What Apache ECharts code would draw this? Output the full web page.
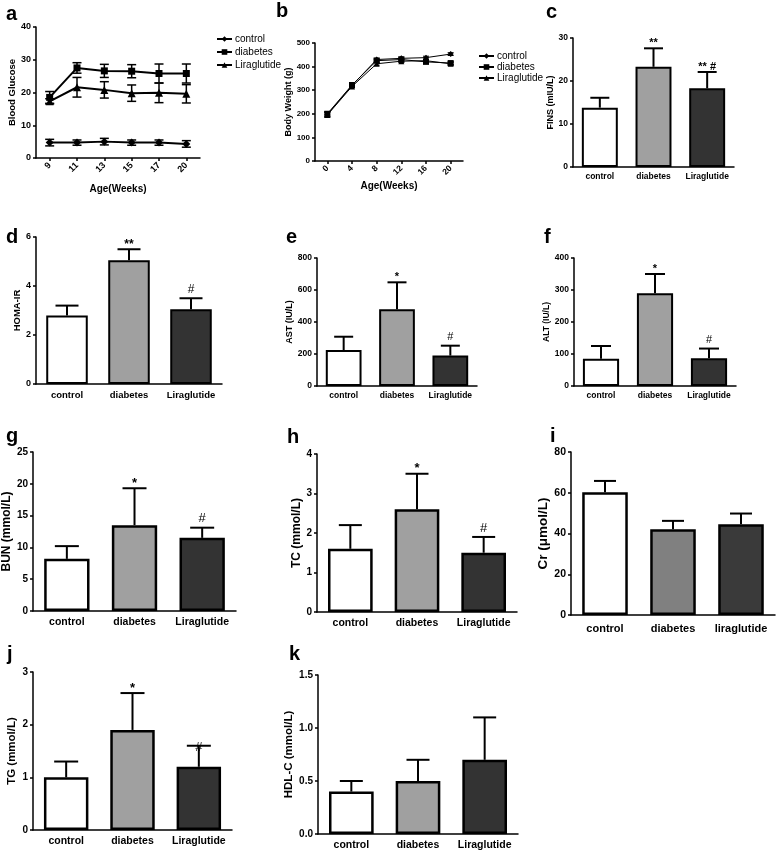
<!DOCTYPE html>
<html>
<head>
<meta charset="utf-8">
<script src="https://cdn.jsdelivr.net/npm/echarts@6/dist/echarts.min.js"></script>
<style>
html,body{margin:0;padding:0;background:#fff;}
#chart{width:784px;height:858px;}
</style>
</head>
<body>
<div id="chart"></div>
<script>
// ---------------- data ----------------
const groups = ['control', 'diabetes', 'Liraglutide'];
const groupsCr = ['control', 'diabetes', 'liraglutide'];
const seriesNames = ['control', 'diabetes', 'Liraglutide'];

// a: blood glucose
const weeksGlucose = ['9', '11', '13', '15', '17', '20'];
const glucoseControl = [4.7, 4.7, 5.0, 4.7, 4.7, 4.3];
const glucoseControlSd = [1.0, 0.8, 1.0, 0.8, 0.8, 1.0];
const glucoseDiabetes = [18.5, 27.5, 26.6, 26.5, 25.8, 25.8];
const glucoseDiabetesSd = [1.8, 1.6, 2.0, 2.0, 2.9, 2.9];
const glucoseLira = [17.3, 21.6, 20.8, 19.8, 19.9, 19.6];
const glucoseLiraSd = [0.8, 3.0, 2.5, 2.5, 3.0, 2.8];

// b: body weight
const weeksWeight = ['0', '4', '8', '12', '16', '20'];
const weightControl = [197, 320, 430, 435, 438, 453];
const weightControlSd = [10, 6, 6, 6, 6, 6];
const weightDiabetes = [200, 322, 425, 430, 420, 415];
const weightDiabetesSd = [10, 6, 6, 6, 6, 6];
const weightLira = [195, 316, 412, 423, 425, 412];
const weightLiraSd = [10, 6, 6, 6, 6, 6];

// c - k: bar panels (mean, SD, significance marks)
const finsMean = [13.8, 23.3, 18.3];
const finsSd = [2.3, 4.3, 3.8];
const finsMarks = ['', '**', '** #'];

const homaMean = [2.8, 5.05, 3.05];
const homaSd = [0.4, 0.45, 0.45];
const homaMarks = ['', '**', '#'];

const astMean = [225, 480, 190];
const astSd = [83, 168, 62];
const astMarks = ['', '*', '#'];

const altMean = [85, 290, 87];
const altSd = [40, 60, 30];
const altMarks = ['', '*', '#'];

const bunMean = [8.2, 13.5, 11.5];
const bunSd = [2.0, 5.8, 1.6];
const bunMarks = ['', '*', '#'];

const tcMean = [1.6, 2.6, 1.5];
const tcSd = [0.6, 0.9, 0.4];
const tcMarks = ['', '*', '#'];

const crMean = [60.3, 42.1, 44.5];
const crSd = [5.5, 4.1, 5.3];
const crMarks = ['', '', ''];

const tgMean = [1.0, 1.9, 1.2];
const tgSd = [0.3, 0.7, 0.4];
const tgMarks = ['', '*', '#'];

const hdlMean = [0.4, 0.5, 0.7];
const hdlSd = [0.1, 0.2, 0.4];
const hdlMarks = ['', '', ''];

// ---------------- styles / layout ----------------
const FONT = '"Liberation Sans", Arial, sans-serif';
const BAR_COLORS = ['#ffffff', '#a0a0a0', '#333333'];
const BAR_COLORS_CR = ['#ffffff', '#808080', '#3a3a3a'];

const option = {
  backgroundColor: '#fff',
  animation: false,
  grid: [], xAxis: [], yAxis: [], series: [], legend: [], graphic: []
};

function yAxisCfg(gi, cfg) {
  return {
    gridIndex: gi, type: 'value', min: 0, max: cfg.max, interval: cfg.interval,
    name: cfg.yName, nameLocation: 'middle', nameGap: cfg.nameGap,
    nameTextStyle: { fontFamily: FONT, fontWeight: 'bold', fontSize: cfg.nameSize, color: '#000' },
    axisLine: { show: true, lineStyle: { color: '#000', width: 1.5 } },
    axisTick: { show: true, length: 3, lineStyle: { color: '#000', width: 1.5 } },
    splitLine: { show: false },
    axisLabel: {
      color: '#000', fontFamily: FONT, fontWeight: 'bold', fontSize: cfg.tickSize, margin: 5,
      formatter: cfg.decimals ? (v => v.toFixed(cfg.decimals)) : null
    }
  };
}

function xAxisCfg(gi, cats, cfg) {
  return {
    gridIndex: gi, type: 'category', data: cats, boundaryGap: true,
    name: cfg.xName || '', nameLocation: 'middle', nameGap: cfg.xNameGap || 0,
    nameTextStyle: { fontFamily: FONT, fontWeight: 'bold', fontSize: 10, color: '#000' },
    axisLine: { show: true, lineStyle: { color: '#000', width: 1.5 } },
    axisTick: { show: !!cfg.xTicks, alignWithLabel: true, length: 3, lineStyle: { color: '#000', width: 1.5 } },
    axisLabel: {
      interval: 0, color: '#000', fontFamily: FONT, fontWeight: 'bold',
      fontSize: cfg.catSize, margin: cfg.catMargin, rotate: cfg.rotate || 0
    }
  };
}

function errorSeries(gi, means, sds, marks, cfg, twoSided, name) {
  return {
    type: 'custom', name: name, xAxisIndex: gi, yAxisIndex: gi, silent: true, z: 5,
    data: means.map((m, i) => [i, m, m + sds[i], m - sds[i]]),
    renderItem: function (params, api) {
      const i = api.value(0);
      const mid = api.coord([i, api.value(1)]);
      const top = api.coord([i, api.value(2)]);
      const bot = api.coord([i, api.value(3)]);
      const hw = cfg.capW / 2;
      const ls = { stroke: '#000', lineWidth: cfg.errLw || 2 };
      const ch = [];
      const y0 = twoSided ? bot[1] : mid[1];
      ch.push({ type: 'line', shape: { x1: top[0], y1: y0, x2: top[0], y2: top[1] }, style: ls });
      ch.push({ type: 'line', shape: { x1: top[0] - hw, y1: top[1], x2: top[0] + hw, y2: top[1] }, style: ls });
      if (twoSided) {
        ch.push({ type: 'line', shape: { x1: bot[0] - hw, y1: bot[1], x2: bot[0] + hw, y2: bot[1] }, style: ls });
      }
      const mk = marks ? marks[params.dataIndex] : '';
      if (mk) {
        const isHash = mk === '#';
        const off = (cfg.markOff && cfg.markOff[params.dataIndex] != null) ? cfg.markOff[params.dataIndex] : (isHash ? 9 : 5);
        ch.push({
          type: 'text',
          style: {
            text: mk, x: top[0], y: top[1] - off,
            textAlign: 'center', textVerticalAlign: 'middle',
            font: (isHash ? 'normal ' : 'bold ') + (cfg.markSize || 12) + 'px ' + FONT,
            fill: '#000'
          }
        });
      }
      return { type: 'group', children: ch };
    }
  };
}

function barPanel(cats, means, sds, marks, cfg) {
  const gi = option.grid.length;
  option.grid.push(cfg.grid);
  option.xAxis.push(xAxisCfg(gi, cats, cfg));
  option.yAxis.push(yAxisCfg(gi, cfg));
  const colors = cfg.colors || BAR_COLORS;
  option.series.push({
    type: 'bar', name: cfg.yName, xAxisIndex: gi, yAxisIndex: gi, silent: true,
    barCategoryGap: cfg.gap || '33%',
    itemStyle: { borderColor: '#000', borderWidth: cfg.borderW || 2 },
    data: means.map((v, i) => ({ value: v, itemStyle: { color: colors[i] } }))
  });
  option.series.push(errorSeries(gi, means, sds, marks, cfg, false, cfg.yName + ' err'));
}

function linePanel(cats, lines, sds, cfg) {
  const gi = option.grid.length;
  option.grid.push(cfg.grid);
  option.xAxis.push(xAxisCfg(gi, cats, cfg));
  option.yAxis.push(yAxisCfg(gi, cfg));
  const symbols = ['diamond', 'rect', 'triangle'];
  lines.forEach((vals, k) => {
    option.series.push({
      type: 'line', name: seriesNames[k], xAxisIndex: gi, yAxisIndex: gi, silent: true,
      data: vals, symbol: symbols[k], symbolSize: cfg.symSize[k],
      lineStyle: { color: '#000', width: cfg.lineW },
      itemStyle: { color: '#000' }, z: 3
    });
    option.series.push(errorSeries(gi, vals, sds[k], null, cfg, true, seriesNames[k] + ' err'));
  });
  option.legend.push({
    data: seriesNames, orient: 'vertical', left: cfg.legLeft, top: cfg.legTop,
    itemWidth: 15, itemHeight: 7, itemGap: cfg.legGap, selectedMode: false,
    textStyle: { fontFamily: FONT, fontSize: 10, color: '#000', padding: [0, 0, 0, -2] }
  });
}

// a
linePanel(weeksGlucose, [glucoseControl, glucoseDiabetes, glucoseLira],
  [glucoseControlSd, glucoseDiabetesSd, glucoseLiraSd], {
  grid: { left: 36, top: 27, width: 164, height: 131 },
  max: 40, interval: 10, yName: 'Blood Glucose', nameGap: 16, nameSize: 9.5, tickSize: 9,
  xName: 'Age(Weeks)', xNameGap: 26, catSize: 9, catMargin: 6, rotate: 45, xTicks: true,
  capW: 9, errLw: 1.5, lineW: 2, symSize: [8, 7, 8],
  legLeft: 211, legTop: 29, legGap: 3
});

// b
linePanel(weeksWeight, [weightControl, weightDiabetes, weightLira],
  [weightControlSd, weightDiabetesSd, weightLiraSd], {
  grid: { left: 315, top: 43, width: 148, height: 118 },
  max: 500, interval: 100, yName: 'Body Weight (g)', nameGap: 17, nameSize: 9, tickSize: 8,
  xName: 'Age(Weeks)', xNameGap: 20, catSize: 8.5, catMargin: 6, rotate: 45, xTicks: true,
  capW: 6, errLw: 1, lineW: 1, symSize: [6, 6, 6],
  legLeft: 473, legTop: 46, legGap: 1
});

// c
barPanel(groups, finsMean, finsSd, finsMarks, {
  grid: { left: 573, top: 38, width: 161, height: 129 },
  max: 30, interval: 10, yName: 'FINS (mIU/L)', nameGap: 15, nameSize: 9, tickSize: 8.5,
  catSize: 8.5, catMargin: 5, capW: 19, markSize: 11
});

// d
barPanel(groups, homaMean, homaSd, homaMarks, {
  grid: { left: 36, top: 237, width: 186, height: 147 },
  max: 6, interval: 2, yName: 'HOMA-IR', nameGap: 14, nameSize: 9.5, tickSize: 9,
  catSize: 9.5, catMargin: 6, capW: 23, markSize: 12
});

// e
barPanel(groups, astMean, astSd, astMarks, {
  grid: { left: 317, top: 258, width: 160, height: 128 },
  max: 800, interval: 200, yName: 'AST (IU/L)', nameGap: 20, nameSize: 9, tickSize: 8.5,
  catSize: 8.5, catMargin: 5, capW: 19, markSize: 11
});

// f
barPanel(groups, altMean, altSd, altMarks, {
  grid: { left: 574, top: 258, width: 162, height: 128 },
  max: 400, interval: 100, yName: 'ALT (IU/L)', nameGap: 19, nameSize: 8.5, tickSize: 8.5,
  catSize: 8.5, catMargin: 5, capW: 20, markSize: 11
});

// g
barPanel(groups, bunMean, bunSd, bunMarks, {
  grid: { left: 33, top: 452, width: 203, height: 159 },
  max: 25, interval: 5, yName: 'BUN (mmol/L)', nameGap: 16, nameSize: 12, tickSize: 10,
  catSize: 10.5, catMargin: 6, capW: 24, markSize: 13, borderW: 2.5
});

// h
barPanel(groups, tcMean, tcSd, tcMarks, {
  grid: { left: 317, top: 454, width: 200, height: 158 },
  max: 4, interval: 1, yName: 'TC (mmol/L)', nameGap: 14, nameSize: 12, tickSize: 10,
  catSize: 10.5, catMargin: 6, capW: 23, markSize: 13, borderW: 2.5
});

// i
barPanel(groupsCr, crMean, crSd, crMarks, {
  grid: { left: 571, top: 452, width: 204, height: 163 },
  max: 80, interval: 20, yName: 'Cr (μmol/L)', nameGap: 11, nameSize: 13.5, tickSize: 10.5,
  catSize: 11, catMargin: 8, capW: 22, colors: BAR_COLORS_CR, borderW: 2.5
});

// j
barPanel(groups, tgMean, tgSd, tgMarks, {
  grid: { left: 33, top: 672, width: 199, height: 158 },
  max: 3, interval: 1, yName: 'TG (mmol/L)', nameGap: 15, nameSize: 11.5, tickSize: 10,
  catSize: 10.5, catMargin: 6, capW: 24, markSize: 13, borderW: 2.5, markOff: [null, 5, -2]
});

// k
barPanel(groups, hdlMean, hdlSd, hdlMarks, {
  grid: { left: 318, top: 675, width: 200, height: 159 },
  max: 1.5, interval: 0.5, decimals: 1, yName: 'HDL-C (mmol/L)', nameGap: 19, nameSize: 11.5, tickSize: 10,
  catSize: 10.5, catMargin: 6, capW: 23, borderW: 2.5
});

// panel letters
const letters = [
  ['a', 6, 14], ['b', 276, 11], ['c', 546, 12],
  ['d', 6, 237], ['e', 286, 237], ['f', 544, 237],
  ['g', 6, 436], ['h', 287, 437], ['i', 550, 436],
  ['j', 7, 654], ['k', 289, 654]
];
letters.forEach(l => {
  option.graphic.push({
    type: 'text', left: null, silent: true, x: l[1], y: l[2],
    style: { text: l[0], font: 'bold 20px ' + FONT, fill: '#000', textAlign: 'left', textVerticalAlign: 'middle' }
  });
});

const chart = echarts.init(document.getElementById('chart'), null, { renderer: 'canvas' });
chart.setOption(option);
</script>
</body>
</html>
